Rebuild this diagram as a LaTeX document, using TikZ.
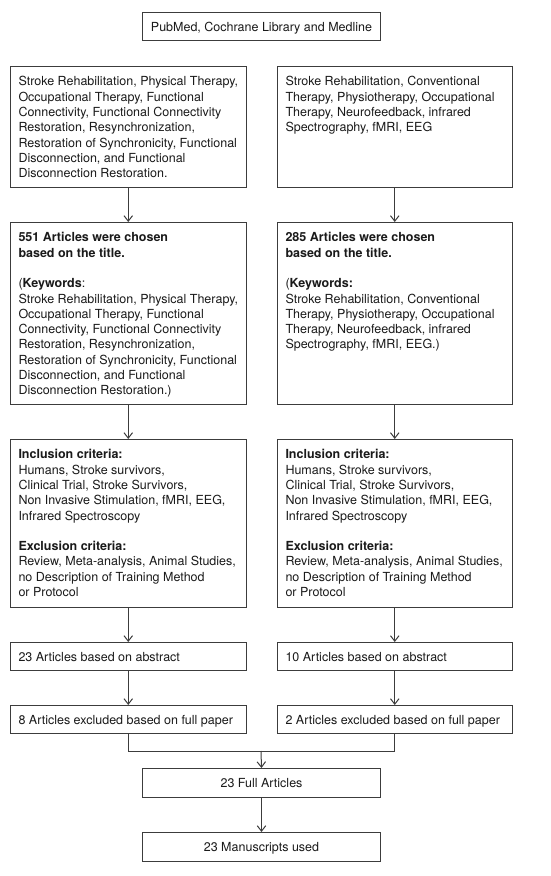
\documentclass[tikz,border=0pt]{standalone}
\usepackage{fontspec}
\setmainfont{TeX Gyre Heros}
\usetikzlibrary{arrows.meta}
\definecolor{linec}{HTML}{3C3C3C}
\definecolor{textc}{HTML}{1A1A1A}
\newcommand\lbox[6]{%
  \node[boxst, anchor=north west] (#1) at (#2,#3)
  {\parbox[c][\dimexpr#5pt-#3pt\relax][t]{\dimexpr#4pt-#2pt\relax}{\raggedright\leftskip=8pt\relax\rule{0pt}{19.3pt}#6}};}
\newcommand\cbox[6]{%
  \node[boxst, anchor=north west] (#1) at (#2,#3)
  {\parbox[c][\dimexpr#5pt-#3pt\relax][t]{\dimexpr#4pt-#2pt\relax}{\centering\rule{0pt}{19pt}#6}};}
\begin{document}
\begin{tikzpicture}[x=1pt,y=-1pt,
  boxst/.style={draw=linec, line width=1pt, inner sep=0pt, text=textc,
    font=\fontsize{12.5}{15.3}\selectfont},
  arr/.style={draw=linec, line width=1pt, -{Straight Barb[length=5.5pt,width=8.5pt]}},
  ln/.style={draw=linec, line width=1pt}]
\useasboundingbox[fill=white] (0,0) rectangle (550,876);
\cbox{top}{142}{12}{380}{40}{PubMed, Cochrane Library and Medline}
\lbox{L1}{10}{66}{245.5}{187}{Stroke Rehabilitation, Physical Therapy,\\
Occupational Therapy, Functional\\
Connectivity, Functional Connectivity\\
Restoration, Resynchronization,\\
Restoration of Synchronicity, Functional\\
Disconnection, and Functional\\
Disconnection Restoration.}
\lbox{R1}{277}{66}{511.5}{187}{Stroke Rehabilitation, Conventional\\
Therapy, Physiotherapy, Occupational\\
Therapy, Neurofeedback, infrared\\
Spectrography, fMRI, EEG}
\lbox{L2}{10}{222}{245.5}{404}{\textbf{551 Articles were chosen}\\
\textbf{based on the title.}\\[15.3pt]
(\textbf{Keywords}:\\
Stroke Rehabilitation, Physical Therapy,\\
Occupational Therapy, Functional\\
Connectivity, Functional Connectivity\\
Restoration, Resynchronization,\\
Restoration of Synchronicity, Functional\\
Disconnection, and Functional\\
Disconnection Restoration.)}
\lbox{R2}{277}{222}{511.5}{404}{\textbf{285 Articles were chosen}\\
\textbf{based on the title.}\\[15.3pt]
(\textbf{Keywords:}\\
Stroke Rehabilitation, Conventional\\
Therapy, Physiotherapy, Occupational\\
Therapy, Neurofeedback, infrared\\
Spectrography, fMRI, EEG.)}
\lbox{L3}{10}{439}{245.5}{607}{\textbf{Inclusion criteria:}\\
Humans, Stroke survivors,\\
Clinical Trial, Stroke Survivors,\\
Non Invasive Stimulation, fMRI, EEG,\\
Infrared Spectroscopy\\[15.3pt]
\textbf{Exclusion criteria:}\\
Review, Meta-analysis, Animal Studies,\\
no Description of Training Method\\
or Protocol}
\lbox{R3}{277}{439}{511.5}{607}{\textbf{Inclusion criteria:}\\
Humans, Stroke survivors,\\
Clinical Trial, Stroke Survivors,\\
Non Invasive Stimulation, fMRI, EEG,\\
Infrared Spectroscopy\\[15.3pt]
\textbf{Exclusion criteria:}\\
Review, Meta-analysis, Animal Studies,\\
no Description of Training Method\\
or Protocol}
\lbox{L4}{10}{642}{245.5}{670}{23 Articles based on abstract}
\lbox{R4}{277}{642}{511.5}{670}{10 Articles based on abstract}
\lbox{L5}{10}{705}{245.5}{733}{8 Articles excluded based on full paper}
\lbox{R5}{277}{705}{511.5}{733}{2 Articles excluded based on full paper}
\cbox{F}{142}{768}{380}{797}{23 Full Articles}
\cbox{M}{142}{832}{380}{861}{23 Manuscripts used}
\coordinate (mj) at (261,751);
\draw[arr] (L1.south) -- (L2.north);
\draw[arr] (R1.south) -- (R2.north);
\draw[arr] (L2.south) -- (L3.north);
\draw[arr] (R2.south) -- (R3.north);
\draw[arr] (L3.south) -- (L4.north);
\draw[arr] (R3.south) -- (R4.north);
\draw[arr] (L4.south) -- (L5.north);
\draw[arr] (R4.south) -- (R5.north);
\draw[ln] (L5.south) |- (mj) -| (R5.south);
\draw[arr] (mj) -- (F.north);
\draw[arr] (F.south) -- (M.north);
\end{tikzpicture}
\end{document}
